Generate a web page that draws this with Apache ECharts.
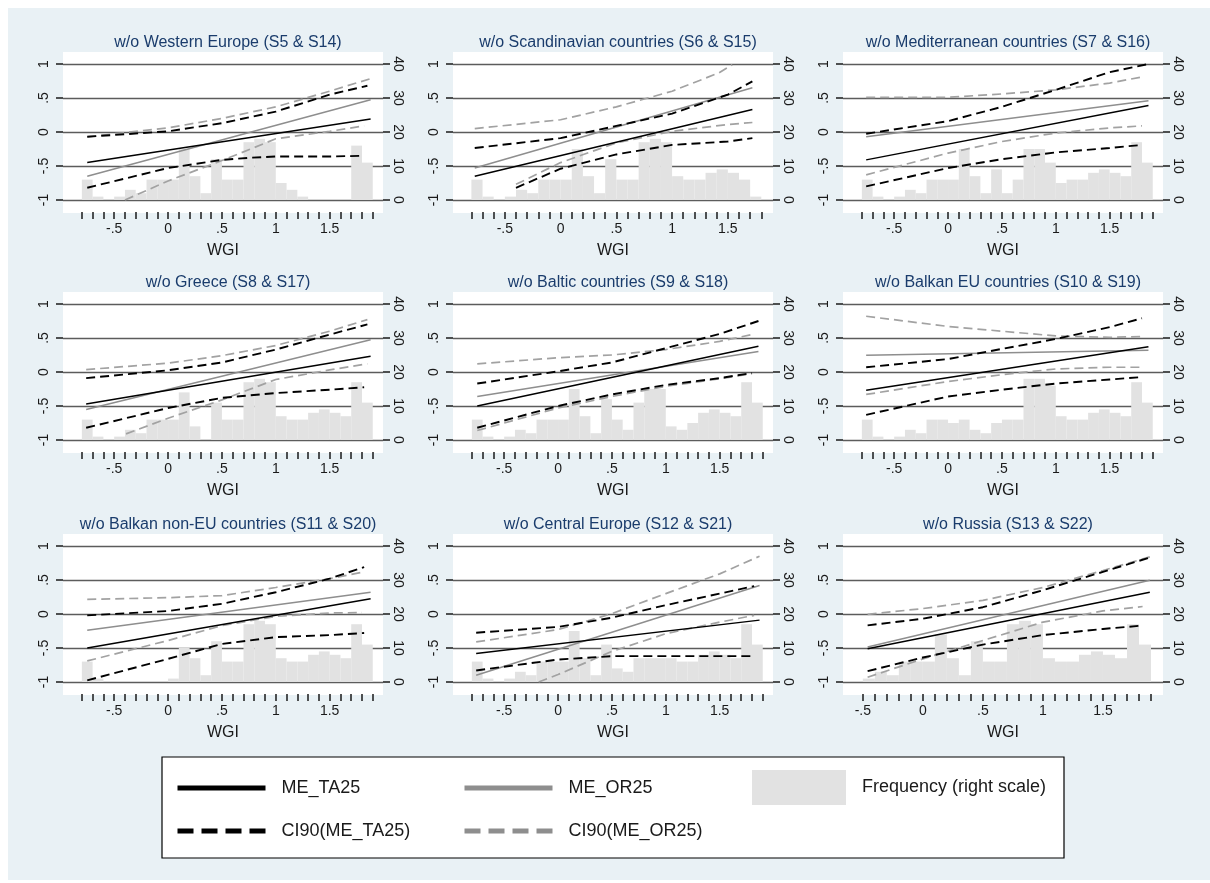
<!DOCTYPE html>
<html><head><meta charset="utf-8">
<script src="https://cdn.jsdelivr.net/npm/echarts@6/dist/echarts.min.js"></script>
<style>html,body{margin:0;padding:0;background:#fff}#c{width:1210px;height:883px}</style>
</head><body><div id="c"></div><script>
// ---------- data ----------
const titles = [
  'w/o Western Europe (S5 & S14)', 'w/o Scandinavian countries (S6 & S15)', 'w/o Mediterranean countries (S7 & S16)',
  'w/o Greece (S8 & S17)', 'w/o Baltic countries (S9 & S18)', 'w/o Balkan EU countries (S10 & S19)',
  'w/o Balkan non-EU countries (S11 & S20)', 'w/o Central Europe (S12 & S21)', 'w/o Russia (S13 & S22)'
];
const xMin = [-0.975, -0.965, -0.975, -0.975, -0.975, -0.975, -0.975, -0.975, -0.665];
const xMax = [1.995, 1.905, 1.995, 1.995, 1.995, 1.995, 1.995, 1.995, 2.0];
const ticksFull = [-0.8,-0.7,-0.6,-0.5,-0.4,-0.3,-0.2,-0.1,0,0.1,0.2,0.3,0.4,0.5,0.6,0.7,0.8,0.9,1,1.1,1.2,1.3,1.4,1.5,1.6,1.7,1.8,1.9];
const ticksScand = [-0.8,-0.7,-0.6,-0.5,-0.4,-0.3,-0.2,-0.1,0,0.1,0.2,0.3,0.4,0.5,0.6,0.7,0.8,0.9,1,1.1,1.2,1.3,1.4,1.5,1.6,1.7,1.8];
const ticksRussia = [-0.5,-0.4,-0.3,-0.2,-0.1,0,0.1,0.2,0.3,0.4,0.5,0.6,0.7,0.8,0.9,1,1.1,1.2,1.3,1.4,1.5,1.6,1.7,1.8,1.9];
const xTicks = [ticksFull, ticksScand, ticksFull, ticksFull, ticksFull, ticksFull, ticksFull, ticksFull, ticksRussia];
const xLabelVals = [-0.5, 0, 0.5, 1, 1.5];
const yLeftTicks = [-1, -0.5, 0, 0.5, 1];
const yRightTicks = [0, 10, 20, 30, 40];

// histogram: first bin left edge, bin width, frequencies
const binWidth = 0.1;
const histStart = [-0.8, -0.8, -0.8, -0.8, -0.8, -0.8, -0.8, -0.8, -0.5];
const freqWestEu   = [6,1,0,1,3,2,6,6,6,15,7,2,12,6,6,17,18,17,5,3,1,0,0,0,0,16,11];
const freqScand    = [6,1,0,1,3,2,6,6,6,15,7,2,12,6,6,17,18,17,7,6,6,8,9,8,6,1];
const freqMedit    = [6,1,0,1,3,2,6,6,6,15,7,2,9,2,6,15,15,11,5,6,6,8,9,8,7,17,11];
const freqGreece   = [6,1,0,1,3,2,6,6,6,14,4,0,11,6,6,17,18,17,7,6,6,8,9,8,7,17,11];
const freqBaltic   = [6,1,0,1,3,2,6,6,6,15,7,2,12,6,3,11,15,15,4,3,5,8,9,8,7,17,11];
const freqBalkanEU = [6,1,0,1,3,2,6,6,5,6,3,2,5,6,6,18,18,16,7,6,6,8,9,8,7,17,11];
const freqBalkanNE = [6,1,0,0,0,0,0,0,1,10,7,2,12,6,6,17,18,17,7,6,6,8,9,8,7,17,11];
const freqCentral  = [6,1,0,1,3,2,6,6,6,15,7,2,11,4,3,7,7,7,7,6,6,8,9,8,7,17,11];
const freqRussia   = [1,3,2,6,6,6,14,7,2,12,6,6,17,18,17,7,6,6,8,9,8,7,17,11];
const freqs = [freqWestEu, freqScand, freqMedit, freqGreece, freqBaltic, freqBalkanEU, freqBalkanNE, freqCentral, freqRussia];

// marginal effects [WGI, ME]
const meTA25 = [
  [[-0.75,-0.45],[1.88,0.19]],
  [[-0.77,-0.65],[1.72,0.33]],
  [[-0.76,-0.41],[1.86,0.39]],
  [[-0.76,-0.47],[1.88,0.23]],
  [[-0.75,-0.50],[1.86,0.38]],
  [[-0.76,-0.27],[1.86,0.37]],
  [[-0.75,-0.50],[1.88,0.225]],
  [[-0.76,-0.58],[1.87,-0.09]],
  [[-0.46,-0.51],[1.89,0.32]]
];
const meOR25 = [
  [[-0.75,-0.65],[1.88,0.475]],
  [[-0.77,-0.53],[1.72,0.65]],
  [[-0.76,-0.07],[1.86,0.46]],
  [[-0.76,-0.55],[1.88,0.475]],
  [[-0.75,-0.36],[1.86,0.30]],
  [[-0.76,0.245],[1.86,0.32]],
  [[-0.75,-0.24],[1.88,0.32]],
  [[-0.76,-0.90],[1.87,0.42]],
  [[-0.46,-0.485],[1.89,0.495]]
];
const ciTAhi = [
  [[-0.75,-0.07],[0,0.01],[0.5,0.13],[1,0.30],[1.5,0.55],[1.85,0.68]],
  [[-0.77,-0.235],[0,-0.09],[0.5,0.09],[1,0.27],[1.5,0.55],[1.72,0.745]],
  [[-0.76,-0.025],[0,0.16],[0.5,0.37],[1,0.62],[1.5,0.88],[1.86,1.0]],
  [[-0.76,-0.09],[0,0.025],[0.5,0.14],[1,0.33],[1.5,0.55],[1.85,0.70]],
  [[-0.75,-0.17],[0,0.01],[0.5,0.14],[1,0.35],[1.5,0.56],[1.86,0.75]],
  [[-0.76,0.07],[0,0.19],[0.5,0.34],[1,0.485],[1.5,0.66],[1.8,0.79]],
  [[-0.75,-0.02],[0,0.044],[0.5,0.15],[1,0.32],[1.5,0.52],[1.82,0.69]],
  [[-0.76,-0.275],[0,-0.19],[0.5,-0.054],[1,0.13],[1.5,0.30],[1.82,0.41]],
  [[-0.46,-0.167],[0,-0.07],[0.5,0.10],[1,0.35],[1.5,0.62],[1.89,0.83]]
];
const ciORhi = [
  [[-0.75,-0.07],[0,0.06],[0.5,0.2],[1,0.37],[1.5,0.6],[1.87,0.78]],
  [[-0.77,0.05],[0,0.18],[0.5,0.37],[1,0.60],[1.42,0.87],[1.54,0.99]],
  [[-0.76,0.51],[0,0.51],[0.5,0.56],[1,0.62],[1.5,0.72],[1.8,0.81]],
  [[-0.76,0.035],[0,0.13],[0.5,0.24],[1,0.39],[1.5,0.60],[1.85,0.77]],
  [[-0.75,0.12],[0,0.21],[0.5,0.25],[1,0.33],[1.5,0.45],[1.8,0.55]],
  [[-0.76,0.82],[0,0.67],[0.5,0.60],[1,0.53],[1.5,0.51],[1.8,0.52]],
  [[-0.75,0.215],[0,0.24],[0.5,0.27],[1,0.39],[1.5,0.52],[1.82,0.62]],
  [[-0.76,-0.41],[0,-0.23],[0.5,0.005],[1,0.30],[1.5,0.59],[1.87,0.85]],
  [[-0.46,-0.005],[0,0.08],[0.5,0.20],[1,0.39],[1.5,0.64],[1.89,0.84]]
];
const ciTAlo = [
  [[-0.75,-0.82],[0,-0.53],[0.5,-0.41],[0.75,-0.38],[1,-0.36],[1.5,-0.36],[1.82,-0.35]],
  [[-0.40,-0.82],[0,-0.54],[0.5,-0.33],[1,-0.19],[1.5,-0.14],[1.72,-0.09]],
  [[-0.76,-0.80],[0,-0.53],[0.5,-0.40],[1,-0.30],[1.5,-0.235],[1.8,-0.19]],
  [[-0.76,-0.82],[0,-0.53],[0.5,-0.38],[1,-0.31],[1.5,-0.26],[1.82,-0.225]],
  [[-0.75,-0.82],[0,-0.50],[0.5,-0.33],[1,-0.19],[1.5,-0.09],[1.8,-0.015]],
  [[-0.76,-0.63],[0,-0.36],[0.5,-0.26],[1,-0.17],[1.5,-0.11],[1.8,-0.075]],
  [[-0.75,-0.975],[0,-0.66],[0.5,-0.44],[1,-0.34],[1.5,-0.31],[1.82,-0.28]],
  [[-0.76,-0.83],[0,-0.67],[0.5,-0.62],[1,-0.62],[1.5,-0.62],[1.82,-0.62]],
  [[-0.46,-0.84],[0,-0.64],[0.5,-0.45],[1,-0.31],[1.5,-0.22],[1.83,-0.17]]
];
const ciORlo = [
  [[-0.40,-1.0],[0,-0.72],[0.5,-0.42],[1,-0.10],[1.5,0.01],[1.82,0.09]],
  [[-0.40,-0.77],[0,-0.45],[0.5,-0.16],[1,0.01],[1.5,0.11],[1.72,0.14]],
  [[-0.76,-0.63],[0,-0.31],[0.5,-0.14],[1,-0.015],[1.5,0.06],[1.8,0.09]],
  [[-0.39,-0.91],[0,-0.68],[0.5,-0.41],[1,-0.11],[1.5,0.03],[1.85,0.12]],
  [[-0.75,-0.86],[0,-0.53],[0.5,-0.36],[1,-0.21],[1.5,-0.10],[1.8,-0.025]],
  [[-0.76,-0.33],[0,-0.14],[0.5,-0.04],[1,0.045],[1.5,0.07],[1.8,0.07]],
  [[-0.75,-0.69],[0,-0.39],[0.5,-0.17],[1,-0.035],[1.5,0.015],[1.8,0.02]],
  [[-0.18,-1.0],[0,-0.89],[0.5,-0.55],[1,-0.29],[1.5,-0.12],[1.82,-0.02]],
  [[-0.46,-0.93],[0,-0.66],[0.5,-0.39],[1,-0.12],[1.5,0.045],[1.83,0.11]]
];

// ---------- layout / style ----------
const colX = [63, 453, 843];
const rowY = [64, 304, 546];
const PW = 320, PH = 136;
const BG = '#e9f1f5', BAR = '#e2e2e2', NAVY = '#1a3c6c', TXT = '#1a1a1a';
const GRAY = '#8e8e8e', GRAYD = '#a2a2a2';
const FONT = 'Liberation Sans, Arial, sans-serif';
const fmt = v => { const s = String(Math.round(v * 100) / 100); return s.replace(/^(-?)0\./, '$1.'); };

const grids = [], xAxes = [], yAxes = [], series = [], titleOpts = [];
const graphics = [{ type: 'rect', z: -10, shape: { x: 8, y: 8, width: 1202, height: 872 }, style: { fill: BG } }];

for (let i = 0; i < 9; i++) {
  const c = i % 3, r = Math.floor(i / 3);
  grids.push({ left: colX[c], top: rowY[r], width: PW, height: PH });
  graphics.push({ type: 'rect', z: -9, shape: { x: colX[c], y: rowY[r] - 12, width: PW, height: PH + 25 }, style: { fill: '#fff' } });
  titleOpts.push({ text: titles[i], left: colX[c] + PW / 2, top: rowY[r] - 34, textAlign: 'center',
    textStyle: { fontSize: 16, fontWeight: 'normal', color: NAVY, fontFamily: FONT } });
  xAxes.push({ gridIndex: i, type: 'value', min: xMin[i], max: xMax[i], offset: 12,
    axisLine: { show: false, onZero: false },
    axisTick: { show: true, length: 7, customValues: xTicks[i], lineStyle: { color: TXT, width: 1.5 } },
    axisLabel: { customValues: xLabelVals, formatter: fmt, margin: 10, fontSize: 14, color: TXT, fontFamily: FONT },
    splitLine: { show: false },
    name: 'WGI', nameLocation: 'middle', nameGap: 31,
    nameTextStyle: { fontSize: 16, color: TXT, fontFamily: FONT } });
  yAxes.push({ gridIndex: i, type: 'value', min: -1, max: 1, interval: 0.5, position: 'left',
    axisLine: { show: false, onZero: false },
    axisTick: { show: true, length: 7, customValues: yLeftTicks, lineStyle: { color: TXT, width: 1.5 } },
    axisLabel: { customValues: yLeftTicks, rotate: 90, margin: 12, formatter: fmt, fontSize: 14, color: TXT, fontFamily: FONT },
    splitLine: { show: true, lineStyle: { color: '#5c5c5c', width: 1.3 } } });
  yAxes.push({ gridIndex: i, type: 'value', min: 0, max: 40, interval: 10, position: 'right',
    axisLine: { show: false, onZero: false },
    axisTick: { show: true, length: 7, customValues: yRightTicks, lineStyle: { color: TXT, width: 1.5 } },
    axisLabel: { customValues: yRightTicks, rotate: -90, margin: 8, fontSize: 14, color: TXT, fontFamily: FONT },
    splitLine: { show: false } });

  const hist = freqs[i].map((f, k) => [histStart[i] + k * binWidth, f, binWidth]);
  series.push({ name: 'Frequency (right scale)', type: 'custom', xAxisIndex: i, yAxisIndex: 2 * i + 1,
    z: 1, clip: true, silent: true, itemStyle: { color: BAR }, encode: { x: 0, y: 1 }, data: hist,
    renderItem: (params, api) => {
      const x0 = api.value(0), h = api.value(1), w = api.value(2);
      const p0 = api.coord([x0, h]), p1 = api.coord([x0 + w, 0]);
      return { type: 'rect', shape: { x: p0[0], y: p0[1], width: p1[0] - p0[0], height: p1[1] - p0[1] }, style: { fill: BAR } };
    } });
  const mk = (name, data, color, width, type, z) => ({ name, type: 'line', xAxisIndex: i, yAxisIndex: 2 * i,
    data, symbol: 'none', showSymbol: false, clip: true, z, silent: true,
    itemStyle: { color, opacity: 0 }, lineStyle: { color, width, type } });
  series.push(mk('CI90(ME_OR25)', ciORhi[i], GRAYD, 1.7, [9, 5], 2));
  series.push(mk('CI90(ME_OR25)', ciORlo[i], GRAYD, 1.7, [9, 5], 2));
  series.push(mk('ME_OR25', meOR25[i], GRAY, 1.5, 'solid', 3));
  series.push(mk('CI90(ME_TA25)', ciTAhi[i], '#000', 1.9, [9, 5], 4));
  series.push(mk('CI90(ME_TA25)', ciTAlo[i], '#000', 1.9, [9, 5], 4));
  series.push(mk('ME_TA25', meTA25[i], '#000', 1.5, 'solid', 5));
}

graphics.push({ type: 'rect', z: -9, shape: { x: 162, y: 757, width: 902, height: 101 }, style: { fill: '#fff', stroke: '#000', lineWidth: 1.2 } });

const legText = { fontSize: 18, color: TXT, padding: [0, 0, 0, 11], fontFamily: FONT };
const legBase = { orient: 'horizontal', selectedMode: false, padding: 0, itemWidth: 88, itemHeight: 22, textStyle: legText,
  itemStyle: { opacity: 0 } };
const legends = [
  Object.assign({}, legBase, { data: ['ME_TA25'], left: 175, top: 779, lineStyle: { width: 5, color: '#000' } }),
  Object.assign({}, legBase, { data: ['ME_OR25'], left: 462, top: 779, lineStyle: { width: 5, color: GRAY } }),
  Object.assign({}, legBase, { data: ['Frequency (right scale)'], left: 752, top: 770, itemWidth: 94, itemHeight: 35, icon: 'rect', itemStyle: { color: BAR, opacity: 1 } }),
  Object.assign({}, legBase, { data: ['CI90(ME_TA25)'], left: 175, top: 822, lineStyle: { width: 5, color: '#000', type: [16, 8] } }),
  Object.assign({}, legBase, { data: ['CI90(ME_OR25)'], left: 462, top: 822, lineStyle: { width: 5, color: GRAY, type: [16, 8] } })
];

const chart = echarts.init(document.getElementById('c'), null, { renderer: 'canvas' });
chart.setOption({
  backgroundColor: '#fff', animation: false,
  title: titleOpts, grid: grids, xAxis: xAxes, yAxis: yAxes, series,
  legend: legends, graphic: { elements: graphics }
});
</script></body></html>
